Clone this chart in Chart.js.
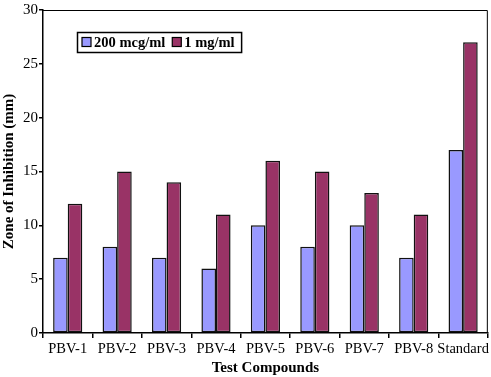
<!DOCTYPE html>
<html>
<head>
<meta charset="utf-8">
<script src="https://cdn.jsdelivr.net/npm/chart.js@4"></script>
<style>
  html, body { margin: 0; padding: 0; background: #fff; }
  #wrap { width: 491px; height: 377px; position: relative; }
</style>
</head>
<body>
<div id="wrap"><canvas id="zoneChart"></canvas></div>
<script>
const categories = ['PBV-1', 'PBV-2', 'PBV-3', 'PBV-4', 'PBV-5', 'PBV-6', 'PBV-7', 'PBV-8', 'Standard'];
const lowDose = [7, 8, 7, 6, 10, 8, 10, 7, 17];     // 200 mcg/ml
const highDose = [12, 15, 14, 11, 16, 15, 13, 11, 27]; // 1 mg/ml
const yTicks = [0, 5, 10, 15, 20, 25, 30];

const serif = "'Liberation Serif', 'Times New Roman', serif";

// frame round the plot area + legend box inside it
const framePlugin = {
    id: 'frame',
    afterDraw(chart) {
        const { ctx, chartArea: a } = chart;
        ctx.save();
        ctx.strokeStyle = '#000';
        ctx.lineWidth = 1;
        ctx.beginPath();
        ctx.moveTo(a.left, a.top + 0.5);
        ctx.lineTo(a.right - 0.5, a.top + 0.5);
        ctx.lineTo(a.right - 0.5, a.bottom);
        ctx.stroke();

        // legend - box sized to its content
        ctx.font = 'bold 14.5px ' + serif;
        ctx.textBaseline = 'middle';
        const ds = chart.data.datasets;
        const x0 = 77.5, y0 = 32.5, h = 20;
        const gap = 7;
        let w = 4.5;
        ds.forEach((d, i) => { w += 12 + ctx.measureText(d.label).width + (i < ds.length - 1 ? gap : 7); });
        ctx.fillStyle = '#fff';
        ctx.fillRect(x0, y0, w, h);
        ctx.lineWidth = 1.5;
        ctx.strokeRect(x0, y0, w, h);
        let x = x0 + 4.5;
        ds.forEach(d => {
            ctx.fillStyle = d.backgroundColor;
            ctx.fillRect(x, y0 + 5, 9, 9);
            ctx.lineWidth = 1.2;
            ctx.strokeRect(x, y0 + 5, 9, 9);
            ctx.fillStyle = '#000';
            ctx.fillText(d.label, x + 12, y0 + h / 2 + 1);
            x += 12 + ctx.measureText(d.label).width + gap;
        });
        ctx.restore();
    }
};

new Chart(document.getElementById('zoneChart'), {
    type: 'bar',
    data: {
        labels: categories,
        datasets: [{
            label: '200 mcg/ml',
            data: lowDose,
            backgroundColor: '#9999FF',
            borderColor: '#111',
            borderWidth: 1.5,
            borderSkipped: false,
            categoryPercentage: 0.59,
            barPercentage: 1
        }, {
            label: '1 mg/ml',
            data: highDose,
            backgroundColor: '#993366',
            borderColor: '#111',
            borderWidth: 1.5,
            borderSkipped: false,
            categoryPercentage: 0.59,
            barPercentage: 1
        }]
    },
    plugins: [framePlugin],
    options: {
        responsive: true,
        maintainAspectRatio: false,
        animation: false,
        layout: { padding: { top: 8, right: 2, left: 0, bottom: 0 } },
        scales: {
            x: {
                offset: true,
                grid: { display: true, offset: true, drawOnChartArea: false, tickLength: 5, color: '#000', lineWidth: 1.5 },
                border: { color: '#000', width: 1.5 },
                ticks: { color: '#000', font: { family: serif, size: 14.5 }, padding: 2, maxRotation: 0, autoSkip: false },
                title: { display: true, text: 'Test Compounds', color: '#000', font: { family: serif, size: 15, weight: 'bold' }, padding: { top: 0, bottom: 0 } },
                afterFit(scale) { scale.height = 44; }
            },
            y: {
                min: 0,
                max: 30,
                afterBuildTicks(scale) { scale.ticks = yTicks.map(v => ({ value: v })); },
                grid: { display: true, drawOnChartArea: false, tickLength: 4, color: '#000', lineWidth: 1.5 },
                border: { color: '#000', width: 1.5 },
                ticks: { color: '#000', font: { family: serif, size: 15 }, padding: 1 },
                title: { display: true, text: 'Zone of Inhibition (mm)', color: '#000', font: { family: serif, size: 15, weight: 'bold' }, padding: { top: 0, bottom: 0 } },
                afterFit(scale) { scale.width = 43; }
            }
        },
        plugins: {
            legend: { display: false },
            tooltip: { enabled: false }
        }
    }
});
</script>
</body>
</html>
